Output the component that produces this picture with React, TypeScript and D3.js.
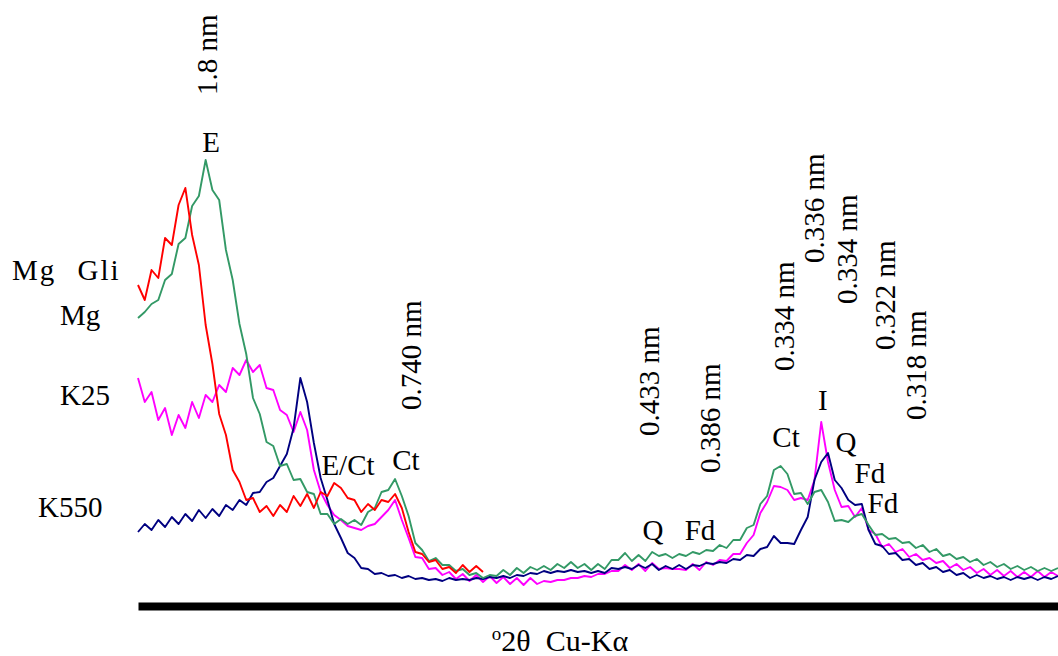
import React, { useEffect, useRef } from "react";
import * as d3 from "d3";

const WIDTH = 1058;
const HEIGHT = 656;

// step-scan grid in degrees 2θ (Cu-Kα)
const START_2THETA = 2;
const STEP_2THETA = 0.25;

// intensities (a.u.), one value per step
const mgGli = [
  315, 300, 330, 322, 362, 355, 395, 412, 365, 335,
  275, 236, 186, 165, 130, 118, 100, 102, 88, 94,
  84, 95, 88, 104, 94, 106, 92, 108, 104, 117,
  112, 102, 100, 88, 96, 90, 100, 98, 106, 92,
  68, 48, 46, 38, 40, 31, 33, 27, 35, 28,
  34, 28,
];

const mg = [
  282, 288, 296, 300, 320, 326, 356, 362, 394, 404,
  440, 410, 400, 350, 320, 276, 246, 202, 186, 158,
  154, 134, 136, 120, 121, 108, 106, 86, 86, 76,
  81, 76, 80, 75, 88, 92, 108, 110, 121, 104,
  84, 57, 50, 39, 42, 35, 35, 29, 31, 25,
  27, 22, 25, 24, 30, 25, 32, 27, 33, 30,
  34, 30, 36, 32, 38, 32, 36, 30, 36, 31,
  40, 40, 47, 39, 45, 39, 48, 44, 46, 42,
  46, 44, 48, 46, 50, 49, 55, 52, 60, 60,
  72, 75, 96, 104, 130, 134, 126, 106, 107, 96,
  108, 110, 98, 79, 80, 78, 84, 86, 75, 65,
  66, 61, 62, 57, 58, 52, 55, 48, 51, 44,
  46, 41, 43, 38, 41, 35, 38, 33, 36, 31,
  34, 30, 33, 29, 32, 29, 32,
];

const k25 = [
  222, 198, 208, 180, 192, 165, 185, 172, 198, 182,
  205, 198, 215, 208, 232, 225, 240, 228, 235, 212,
  210, 190, 185, 168, 188, 170, 130, 108, 95, 85,
  80, 74, 72, 70, 74, 76, 83, 90, 100, 80,
  62, 43, 42, 31, 32, 25, 28, 21, 26, 19,
  25, 18, 24, 17, 23, 16, 22, 15, 22, 16,
  19, 18, 20, 20, 22, 22, 24, 23, 26, 26,
  29, 29, 35, 30, 36, 29, 37, 31, 32, 31,
  31, 30, 36, 30, 38, 35, 40, 39, 46, 46,
  57, 65, 87, 98, 114, 113, 110, 100, 102, 100,
  120, 178, 138, 110, 93, 94, 83, 92, 70, 66,
  53, 56, 48, 51, 43, 46, 40, 42, 37, 39,
  32, 36, 30, 33, 27, 31, 25, 30, 24, 29,
  23, 28, 23, 29, 23, 28, 24,
];

const k550 = [
  68, 76, 70, 80, 73, 83, 76, 86, 79, 90,
  82, 91, 84, 95, 90, 100, 95, 107, 108, 118,
  122, 134, 146, 172, 222, 198, 157, 122, 100, 76,
  62, 47, 42, 32, 31, 26, 27, 24, 25, 22,
  24, 21, 22, 20, 21, 19, 22, 20, 21, 20,
  22, 21, 23, 22, 24, 22, 25, 24, 27, 26,
  29, 27, 29, 28, 30, 28, 29, 27, 29, 27,
  32, 31, 33, 31, 35, 32, 36, 30, 34, 31,
  35, 31, 35, 34, 37, 36, 38, 37, 41, 40,
  45, 44, 51, 53, 64, 57, 57, 56, 70, 83,
  120, 138, 147, 120, 112, 100, 95, 96, 70, 56,
  54, 46, 47, 40, 41, 35, 37, 31, 33, 28,
  30, 25, 27, 22, 25, 22, 24, 21, 23, 20,
  23, 21, 23, 20, 23, 21, 24,
];

const seriesNames = ["K25", "K550", "Mg", "Mg Gli"];
const seriesValues = [k25, k550, mg, mgGli];
const seriesColors = ["#ff00ff", "#000080", "#339966", "#ff0000"];

// sample labels on the left and the intensity level they sit at
const sampleLabels = ["Mg Gli", "Mg", "K25", "K550"];
const sampleLabelLevel = [320, 275, 195, 83];

// mineral phase labels
const phaseLabels = ["E", "E/Ct", "Ct", "Q", "Fd", "Ct", "I", "Q", "Fd", "Fd"];
const phase2Theta = [4.7, 9.76, 11.9, 21.03, 22.77, 25.95, 27.31, 28.16, 29.05, 29.53];
const phaseLevel = [448, 125, 130, 60, 60, 153, 190, 148, 117, 87];

// d-spacing labels
const dLabels = ["1.8 nm", "0.740 nm", "0.433 nm", "0.386 nm", "0.334 nm", "0.336 nm", "0.334 nm", "0.322 nm", "0.318 nm"];
const d2Theta = [4.92, 12.46, 21.25, 23.51, 26.24, 27.35, 28.57, 29.97, 31.12];
const dLevel = [505, 190, 164, 127, 229, 337, 296, 250, 180];

const FONT = "'Liberation Serif', 'Times New Roman', serif";

export default function App() {
  const svgRef = useRef<SVGSVGElement>(null);

  useEffect(() => {
    const svg = d3.select(svgRef.current);
    svg.selectAll("*").remove();

    const x = d3.scaleLinear().domain([2, 36]).range([138, 1058]);
    const y = d3.scaleLinear().domain([0, 600]).range([600, 0]);

    const line = d3
      .line<number>()
      .x((_, i) => x(START_2THETA + i * STEP_2THETA))
      .y((d) => y(d));

    svg
      .selectAll(".series")
      .data(seriesValues)
      .join("path")
      .attr("class", "series")
      .attr("fill", "none")
      .attr("stroke", (_, i) => seriesColors[i])
      .attr("stroke-width", 1.9)
      .attr("stroke-linejoin", "round")
      .attr("d", (d) => line(d));

    // axis: thick bar, no ticks
    const axis = d3.axisBottom(x).ticks(0).tickSize(0).tickSizeOuter(0).tickFormat(() => "");
    const g = svg.append("g").attr("transform", "translate(0,606)").call(axis);
    g.select(".domain").attr("stroke", "#000").attr("stroke-width", 8);

    const title = svg
      .append("text")
      .attr("x", 560)
      .attr("y", 651)
      .attr("text-anchor", "middle")
      .attr("font-family", FONT)
      .attr("font-size", 30)
      .attr("xml:space", "preserve");
    title.append("tspan").attr("font-size", 19).attr("dy", -11).text("o");
    title.append("tspan").attr("dy", 11).text("2θ  Cu-Kα");

    svg
      .selectAll(".sample")
      .data(sampleLabels)
      .join("text")
      .attr("class", "sample")
      .attr("x", (_, i) => (i === 0 ? 12 : i === 3 ? 38 : 60))
      .attr("y", (_, i) => y(sampleLabelLevel[i]))
      .attr("font-family", FONT)
      .attr("font-size", 29)
      .attr("letter-spacing", (_, i) => (i === 0 ? 2 : 0))
      .attr("word-spacing", (_, i) => (i === 0 ? 12 : 0))
      .text((d) => d);

    svg
      .selectAll(".phase")
      .data(phaseLabels)
      .join("text")
      .attr("class", "phase")
      .attr("x", (_, i) => x(phase2Theta[i]))
      .attr("y", (_, i) => y(phaseLevel[i]))
      .attr("text-anchor", "middle")
      .attr("font-family", FONT)
      .attr("font-size", 29)
      .text((d) => d);

    svg
      .selectAll(".dsp")
      .data(dLabels)
      .join("text")
      .attr("class", "dsp")
      .attr(
        "transform",
        (_, i) => `translate(${x(d2Theta[i])},${y(dLevel[i])}) rotate(-90)`
      )
      .attr("font-family", FONT)
      .attr("font-size", 29)
      .text((d) => d);
  }, []);

  return (
    <svg
      ref={svgRef}
      width={WIDTH}
      height={HEIGHT}
      style={{ position: "absolute", left: 0, top: 0, background: "#fff" }}
    />
  );
}
